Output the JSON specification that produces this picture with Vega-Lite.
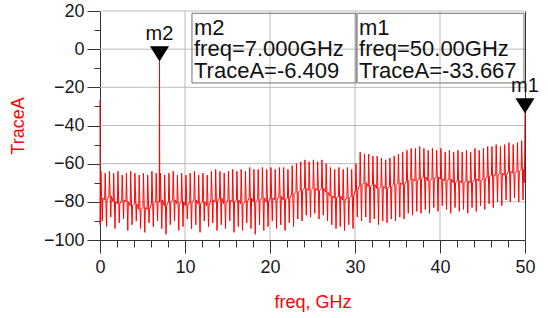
{
"$schema":"https://vega.github.io/schema/vega-lite/v6.json",
"width":425,"height":229,
"autosize":"none",
"padding":{"left":100,"top":11,"right":23,"bottom":78},
"background":"white",
"config":{"view":{"stroke":null}},
"datasets":{
"gv":[{"g":10,"e":-100},{"g":10,"e":20},{"g":20,"e":-100},{"g":20,"e":20},{"g":30,"e":-100},{"g":30,"e":20},{"g":40,"e":-100},{"g":40,"e":20}],
"gh":[{"h":-80,"e":0},{"h":-80,"e":50},{"h":-60,"e":0},{"h":-60,"e":50},{"h":-40,"e":0},{"h":-40,"e":50},{"h":-20,"e":0},{"h":-20,"e":50},{"h":0,"e":0},{"h":0,"e":50},{"h":20,"e":0},{"h":20,"e":50}],
"trace":[
{"f":0,"v":-26.6},{"f":0.02,"v":-92},
{"f":0.05,"v":-78},{"f":0.11,"v":-64},{"f":0.27,"v":-90},{"f":0.33,"v":-78},
{"f":0.55,"v":-79},{"f":0.61,"v":-65},{"f":0.77,"v":-93},{"f":0.83,"v":-79},
{"f":1.05,"v":-77},{"f":1.11,"v":-64},{"f":1.27,"v":-88},{"f":1.33,"v":-77},
{"f":1.55,"v":-80},{"f":1.61,"v":-65},{"f":1.77,"v":-94},{"f":1.83,"v":-80},
{"f":2.05,"v":-81},{"f":2.11,"v":-64},{"f":2.27,"v":-91},{"f":2.33,"v":-81},
{"f":2.55,"v":-79},{"f":2.61,"v":-66},{"f":2.77,"v":-89},{"f":2.83,"v":-79},
{"f":3.05,"v":-80},{"f":3.11,"v":-65},{"f":3.27,"v":-95},{"f":3.33,"v":-80},
{"f":3.55,"v":-82},{"f":3.61,"v":-64},{"f":3.77,"v":-92},{"f":3.83,"v":-82},
{"f":4.05,"v":-81},{"f":4.11,"v":-65},{"f":4.27,"v":-90},{"f":4.33,"v":-81},
{"f":4.55,"v":-84},{"f":4.61,"v":-66},{"f":4.77,"v":-94},{"f":4.83,"v":-84},
{"f":5.05,"v":-83},{"f":5.11,"v":-65},{"f":5.27,"v":-96},{"f":5.33,"v":-83},
{"f":5.55,"v":-84},{"f":5.61,"v":-66},{"f":5.77,"v":-91},{"f":5.83,"v":-84},
{"f":6.05,"v":-81},{"f":6.11,"v":-64},{"f":6.27,"v":-93},{"f":6.33,"v":-81},
{"f":6.55,"v":-80},{"f":6.61,"v":-65},{"f":6.77,"v":-90},{"f":6.83,"v":-80},
{"f":6.97,"v":-80},{"f":7.0,"v":-6.409},{"f":7.03,"v":-80},
{"f":7.05,"v":-79},{"f":7.11,"v":-65},{"f":7.27,"v":-94},{"f":7.33,"v":-79},
{"f":7.55,"v":-82},{"f":7.61,"v":-66},{"f":7.77,"v":-97},{"f":7.83,"v":-82},
{"f":8.05,"v":-80},{"f":8.11,"v":-65},{"f":8.27,"v":-92},{"f":8.33,"v":-80},
{"f":8.55,"v":-79},{"f":8.61,"v":-64},{"f":8.77,"v":-90},{"f":8.83,"v":-79},
{"f":9.05,"v":-81},{"f":9.11,"v":-66},{"f":9.27,"v":-95},{"f":9.33,"v":-81},
{"f":9.55,"v":-80},{"f":9.61,"v":-65},{"f":9.77,"v":-93},{"f":9.83,"v":-80},
{"f":10.05,"v":-82},{"f":10.11,"v":-66},{"f":10.27,"v":-89},{"f":10.33,"v":-82},
{"f":10.55,"v":-80},{"f":10.61,"v":-65},{"f":10.77,"v":-94},{"f":10.83,"v":-80},
{"f":11.05,"v":-79},{"f":11.11,"v":-64},{"f":11.27,"v":-92},{"f":11.33,"v":-79},
{"f":11.55,"v":-81},{"f":11.61,"v":-66},{"f":11.77,"v":-96},{"f":11.83,"v":-81},
{"f":12.05,"v":-80},{"f":12.11,"v":-65},{"f":12.27,"v":-90},{"f":12.33,"v":-80},
{"f":12.55,"v":-82},{"f":12.61,"v":-66},{"f":12.77,"v":-93},{"f":12.83,"v":-82},
{"f":13.05,"v":-79},{"f":13.11,"v":-64},{"f":13.27,"v":-91},{"f":13.33,"v":-79},
{"f":13.55,"v":-80},{"f":13.61,"v":-63},{"f":13.77,"v":-95},{"f":13.83,"v":-80},
{"f":14.05,"v":-78},{"f":14.11,"v":-64},{"f":14.27,"v":-92},{"f":14.33,"v":-78},
{"f":14.55,"v":-81},{"f":14.61,"v":-65},{"f":14.77,"v":-94},{"f":14.83,"v":-81},
{"f":15.05,"v":-79},{"f":15.11,"v":-64},{"f":15.27,"v":-90},{"f":15.33,"v":-79},
{"f":15.55,"v":-80},{"f":15.61,"v":-63},{"f":15.77,"v":-96},{"f":15.83,"v":-80},
{"f":16.05,"v":-79},{"f":16.11,"v":-64},{"f":16.27,"v":-93},{"f":16.33,"v":-79},
{"f":16.55,"v":-81},{"f":16.61,"v":-63},{"f":16.77,"v":-95},{"f":16.83,"v":-81},
{"f":17.05,"v":-80},{"f":17.11,"v":-64},{"f":17.27,"v":-91},{"f":17.33,"v":-80},
{"f":17.55,"v":-78},{"f":17.61,"v":-62},{"f":17.77,"v":-94},{"f":17.83,"v":-78},
{"f":18.05,"v":-80},{"f":18.11,"v":-63},{"f":18.27,"v":-97},{"f":18.33,"v":-80},
{"f":18.55,"v":-79},{"f":18.61,"v":-63},{"f":18.77,"v":-92},{"f":18.83,"v":-79},
{"f":19.05,"v":-78},{"f":19.11,"v":-62},{"f":19.27,"v":-95},{"f":19.33,"v":-78},
{"f":19.55,"v":-80},{"f":19.61,"v":-63},{"f":19.77,"v":-93},{"f":19.83,"v":-80},
{"f":20.05,"v":-78},{"f":20.11,"v":-62},{"f":20.27,"v":-90},{"f":20.33,"v":-78},
{"f":20.55,"v":-79},{"f":20.61,"v":-63},{"f":20.77,"v":-94},{"f":20.83,"v":-79},
{"f":21.05,"v":-77},{"f":21.11,"v":-62},{"f":21.27,"v":-92},{"f":21.33,"v":-77},
{"f":21.55,"v":-79},{"f":21.61,"v":-62},{"f":21.77,"v":-95},{"f":21.83,"v":-79},
{"f":22.05,"v":-78},{"f":22.11,"v":-63},{"f":22.27,"v":-91},{"f":22.33,"v":-78},
{"f":22.55,"v":-76},{"f":22.61,"v":-61},{"f":22.77,"v":-93},{"f":22.83,"v":-76},
{"f":23.05,"v":-75},{"f":23.11,"v":-60},{"f":23.27,"v":-89},{"f":23.33,"v":-75},
{"f":23.55,"v":-74},{"f":23.61,"v":-59},{"f":23.77,"v":-90},{"f":23.83,"v":-74},
{"f":24.05,"v":-73},{"f":24.11,"v":-58},{"f":24.27,"v":-87},{"f":24.33,"v":-73},
{"f":24.55,"v":-74},{"f":24.61,"v":-59},{"f":24.77,"v":-88},{"f":24.83,"v":-74},
{"f":25.05,"v":-73},{"f":25.11,"v":-58},{"f":25.27,"v":-86},{"f":25.33,"v":-73},
{"f":25.55,"v":-74},{"f":25.61,"v":-59},{"f":25.77,"v":-89},{"f":25.83,"v":-74},
{"f":26.05,"v":-73},{"f":26.11,"v":-58},{"f":26.27,"v":-87},{"f":26.33,"v":-73},
{"f":26.55,"v":-75},{"f":26.61,"v":-60},{"f":26.77,"v":-90},{"f":26.83,"v":-75},
{"f":27.05,"v":-77},{"f":27.11,"v":-62},{"f":27.27,"v":-92},{"f":27.33,"v":-77},
{"f":27.55,"v":-78},{"f":27.61,"v":-63},{"f":27.77,"v":-94},{"f":27.83,"v":-78},
{"f":28.05,"v":-77},{"f":28.11,"v":-62},{"f":28.27,"v":-93},{"f":28.33,"v":-77},
{"f":28.55,"v":-79},{"f":28.61,"v":-63},{"f":28.77,"v":-95},{"f":28.83,"v":-79},
{"f":29.05,"v":-78},{"f":29.11,"v":-62},{"f":29.27,"v":-92},{"f":29.33,"v":-78},
{"f":29.55,"v":-77},{"f":29.61,"v":-63},{"f":29.77,"v":-94},{"f":29.83,"v":-77},
{"f":30.05,"v":-74},{"f":30.11,"v":-60},{"f":30.27,"v":-88},{"f":30.33,"v":-74},
{"f":30.55,"v":-71},{"f":30.61,"v":-54},{"f":30.77,"v":-90},{"f":30.83,"v":-71},
{"f":31.05,"v":-70},{"f":31.11,"v":-55},{"f":31.27,"v":-88},{"f":31.33,"v":-70},
{"f":31.55,"v":-72},{"f":31.61,"v":-55},{"f":31.77,"v":-91},{"f":31.83,"v":-72},
{"f":32.05,"v":-71},{"f":32.11,"v":-56},{"f":32.27,"v":-89},{"f":32.33,"v":-71},
{"f":32.55,"v":-73},{"f":32.61,"v":-56},{"f":32.77,"v":-92},{"f":32.83,"v":-73},
{"f":33.05,"v":-72},{"f":33.11,"v":-57},{"f":33.27,"v":-90},{"f":33.33,"v":-72},
{"f":33.55,"v":-73},{"f":33.61,"v":-58},{"f":33.77,"v":-91},{"f":33.83,"v":-73},
{"f":34.05,"v":-72},{"f":34.11,"v":-57},{"f":34.27,"v":-89},{"f":34.33,"v":-72},
{"f":34.55,"v":-71},{"f":34.61,"v":-56},{"f":34.77,"v":-90},{"f":34.83,"v":-71},
{"f":35.05,"v":-70},{"f":35.11,"v":-55},{"f":35.27,"v":-88},{"f":35.33,"v":-70},
{"f":35.55,"v":-71},{"f":35.61,"v":-54},{"f":35.77,"v":-89},{"f":35.83,"v":-71},
{"f":36.05,"v":-69},{"f":36.11,"v":-53},{"f":36.27,"v":-86},{"f":36.33,"v":-69},
{"f":36.55,"v":-68},{"f":36.61,"v":-52},{"f":36.77,"v":-87},{"f":36.83,"v":-68},
{"f":37.05,"v":-69},{"f":37.11,"v":-52},{"f":37.27,"v":-85},{"f":37.33,"v":-69},
{"f":37.55,"v":-68},{"f":37.61,"v":-51},{"f":37.77,"v":-86},{"f":37.83,"v":-68},
{"f":38.05,"v":-67},{"f":38.11,"v":-52},{"f":38.27,"v":-84},{"f":38.33,"v":-67},
{"f":38.55,"v":-69},{"f":38.61,"v":-53},{"f":38.77,"v":-86},{"f":38.83,"v":-69},
{"f":39.05,"v":-68},{"f":39.11,"v":-52},{"f":39.27,"v":-83},{"f":39.33,"v":-68},
{"f":39.55,"v":-67},{"f":39.61,"v":-53},{"f":39.77,"v":-85},{"f":39.83,"v":-67},
{"f":40.05,"v":-68},{"f":40.11,"v":-52},{"f":40.27,"v":-82},{"f":40.33,"v":-68},
{"f":40.55,"v":-69},{"f":40.61,"v":-54},{"f":40.77,"v":-84},{"f":40.83,"v":-69},
{"f":41.05,"v":-68},{"f":41.11,"v":-53},{"f":41.27,"v":-86},{"f":41.33,"v":-68},
{"f":41.55,"v":-70},{"f":41.61,"v":-54},{"f":41.77,"v":-83},{"f":41.83,"v":-70},
{"f":42.05,"v":-69},{"f":42.11,"v":-53},{"f":42.27,"v":-85},{"f":42.33,"v":-69},
{"f":42.55,"v":-70},{"f":42.61,"v":-54},{"f":42.77,"v":-84},{"f":42.83,"v":-70},
{"f":43.05,"v":-69},{"f":43.11,"v":-53},{"f":43.27,"v":-86},{"f":43.33,"v":-69},
{"f":43.55,"v":-70},{"f":43.61,"v":-54},{"f":43.77,"v":-83},{"f":43.83,"v":-70},
{"f":44.05,"v":-68},{"f":44.11,"v":-52},{"f":44.27,"v":-85},{"f":44.33,"v":-68},
{"f":44.55,"v":-69},{"f":44.61,"v":-53},{"f":44.77,"v":-82},{"f":44.83,"v":-69},
{"f":45.05,"v":-68},{"f":45.11,"v":-52},{"f":45.27,"v":-84},{"f":45.33,"v":-68},
{"f":45.55,"v":-67},{"f":45.61,"v":-51},{"f":45.77,"v":-81},{"f":45.83,"v":-67},
{"f":46.05,"v":-66},{"f":46.11,"v":-51},{"f":46.27,"v":-83},{"f":46.33,"v":-66},
{"f":46.55,"v":-66},{"f":46.61,"v":-50},{"f":46.77,"v":-80},{"f":46.83,"v":-66},
{"f":47.05,"v":-65},{"f":47.11,"v":-51},{"f":47.27,"v":-82},{"f":47.33,"v":-65},
{"f":47.55,"v":-66},{"f":47.61,"v":-50},{"f":47.77,"v":-79},{"f":47.83,"v":-66},
{"f":48.05,"v":-64},{"f":48.11,"v":-49},{"f":48.27,"v":-80},{"f":48.33,"v":-64},
{"f":48.55,"v":-65},{"f":48.61,"v":-50},{"f":48.77,"v":-78},{"f":48.83,"v":-65},
{"f":49.05,"v":-64},{"f":49.11,"v":-49},{"f":49.27,"v":-80},{"f":49.33,"v":-64},
{"f":49.55,"v":-63},{"f":49.61,"v":-48},{"f":49.77,"v":-79},{"f":49.83,"v":-63},
{"f":49.9,"v":-70},{"f":49.96,"v":-58},
{"f":50,"v":-33.667}
],
"markers":[
{"m":"m2","f":7,"v":-6.409},
{"m":"m1","f":50,"v":-33.667}
],
"boxes":[
{"m":"m2","x0":10.82,"x1":30.12,"y0":18.8,"y1":-17.7,"txt":"m2\nfreq=7.000GHz\nTraceA=-6.409"},
{"m":"m1","x0":30.24,"x1":49.88,"y0":18.8,"y1":-17.7,"txt":"m1\nfreq=50.00GHz\nTraceA=-33.667"}
]
},
"layer":[
{
"data":{"name":"gv"},
"mark":{"type":"line","color":"#bbbbbb","strokeWidth":1},
"encoding":{
"x":{"field":"g","type":"quantitative","scale":{"domain":[0,50],"nice":false,"zero":false},"axis":null},
"y":{"field":"e","type":"quantitative","scale":{"domain":[-100,20],"nice":false,"zero":false},"axis":null},
"detail":{"field":"g","type":"nominal"}
}
},
{
"data":{"name":"gh"},
"mark":{"type":"line","color":"#bbbbbb","strokeWidth":1},
"encoding":{
"x":{"field":"e","type":"quantitative","axis":null},
"y":{"field":"h","type":"quantitative","axis":null},
"detail":{"field":"h","type":"nominal"}
}
},
{
"data":{"name":"boxes"},
"mark":{"type":"rect","filled":false,"color":"#707070","strokeWidth":1},
"encoding":{
"x":{"field":"x0","type":"quantitative","axis":null},
"x2":{"field":"x1"},
"y":{"field":"y0","type":"quantitative","axis":null},
"y2":{"field":"y1"}
}
},
{
"data":{"name":"trace"},
"mark":{"type":"line","color":"#ff0000","strokeWidth":1},
"encoding":{
"x":{"field":"f","type":"quantitative",
"axis":{"orient":"bottom","title":"freq, GHz","values":[0,2,4,6,8,10,12,14,16,18,20,22,24,26,28,30,32,34,36,38,40,42,44,46,48,50],
"labelExpr":"datum.value % 10 === 0 ? datum.label : ''",
"tickSize":{"condition":{"test":"datum.value % 10 === 0","value":13},"value":7},
"grid":false,"domainColor":"#333333","tickColor":"#333333",
"labelFont":"Liberation Sans","labelFontSize":18,"labelColor":"#1a1a1a","labelPadding":5,"labelFlush":false,"labelOverlap":false,
"titleFont":"Liberation Sans","titleFontSize":18,"titleFontWeight":"normal","titleColor":"#ff0000","titlePadding":17}},
"y":{"field":"v","type":"quantitative",
"axis":{"orient":"left","title":"TraceA","values":[-100,-90,-80,-70,-60,-50,-40,-30,-20,-10,0,10,20],
"labelExpr":"datum.value % 20 === 0 ? datum.label : ''",
"tickSize":{"condition":{"test":"datum.value % 20 === 0","value":13},"value":6},
"grid":false,"domainColor":"#333333","tickColor":"#333333",
"labelFont":"Liberation Sans","labelFontSize":18,"labelColor":"#1a1a1a","labelPadding":3,"labelOverlap":false,
"titleFont":"Liberation Sans","titleFontSize":18,"titleFontWeight":"normal","titleColor":"#ff0000","titlePadding":16}}
}
},
{
"data":{"name":"boxes"},
"mark":{"type":"text","align":"left","baseline":"top","font":"Liberation Sans","fontSize":22,"lineBreak":"\n","lineHeight":21.5,"dx":2,"dy":4.5,"color":"#111111"},
"encoding":{
"x":{"field":"x0","type":"quantitative","axis":null},
"y":{"field":"y0","type":"quantitative","axis":null},
"text":{"field":"txt"}
}
},
{
"data":{"name":"markers"},
"mark":{"type":"point","shape":"M-1,-1.6L1,-1.6L0,0Z","filled":true,"color":"#000000","opacity":1,"size":361},
"encoding":{
"x":{"field":"f","type":"quantitative","axis":null},
"y":{"field":"v","type":"quantitative","axis":{"orient":"right","labels":false,"ticks":false,"grid":false,"title":null,"domainColor":"#333333"}}
}
},
{
"data":{"name":"markers"},
"mark":{"type":"text","align":"center","baseline":"alphabetic","font":"Liberation Sans","fontSize":20,"dy":-21,"color":"#111111"},
"encoding":{
"x":{"field":"f","type":"quantitative","axis":null},
"y":{"field":"v","type":"quantitative","axis":null},
"text":{"field":"m"}
}
}
],
"resolve":{"axis":{"x":"independent","y":"independent"}}
}
